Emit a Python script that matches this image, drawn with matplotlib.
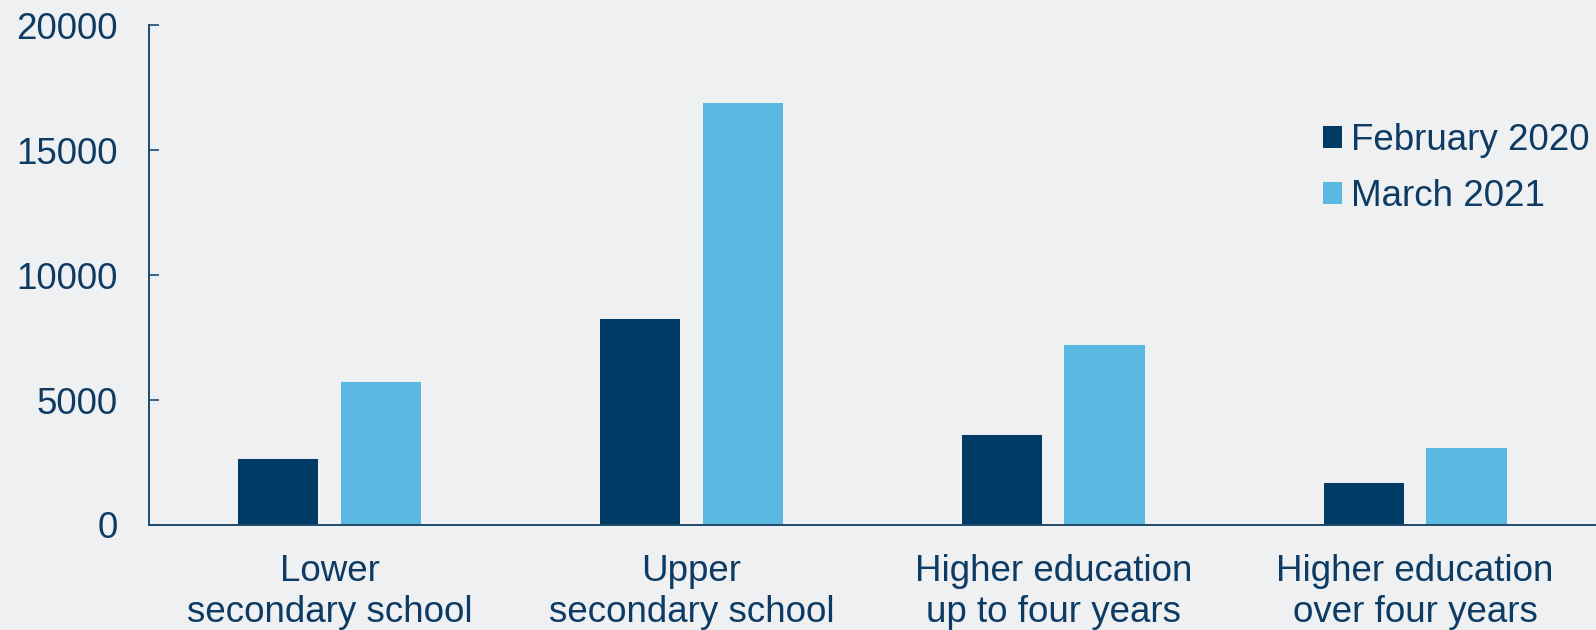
import matplotlib.pyplot as plt
import numpy as np

plt.rcParams['font.family'] = ['Liberation Sans', 'DejaVu Sans']

# Data
categories = ["Lower\nsecondary school", "Upper\nsecondary school",
              "Higher education\nup to four years", "Higher education\nover four years"]
series_names = ["February 2020", "March 2021"]
feb_2020 = [2640, 8230, 3620, 1700]
mar_2021 = [5730, 16900, 7190, 3100]
y_ticks = [0, 5000, 10000, 15000, 20000]

BG = "#eff0f2"
DARK = "#003b66"
LIGHT = "#5ab8e1"
TEXT = "#0d3b63"
AXIS = "#1f4b6d"

fig = plt.figure(figsize=(15.96, 6.3), dpi=100, facecolor=BG)
ax = fig.add_axes([148.6 / 1596, 105 / 630, 1 - 148.6 / 1596, 0.9597 - 105 / 630])
ax.set_facecolor(BG)

x = np.arange(len(categories))
w = 0.222
off = 0.142
b1 = ax.bar(x - off, feb_2020, w, color=DARK, label=series_names[0])
b2 = ax.bar(x + off, mar_2021, w, color=LIGHT, label=series_names[1])

ax.set_xlim(-0.5, len(categories) - 0.5)
ax.set_ylim(0, 20000)
ax.set_yticks(y_ticks)
ax.set_yticklabels([str(t) for t in y_ticks])
ax.set_xticks(x)
ax.set_xticklabels(categories, linespacing=1.22)

for s in ["top", "right"]:
    ax.spines[s].set_visible(False)
for s in ["left", "bottom"]:
    ax.spines[s].set_color(AXIS)
    ax.spines[s].set_linewidth(1.4)

ax.tick_params(axis="y", direction="in", length=7.5, width=1.2, color=AXIS,
               labelsize=26.5, labelcolor=TEXT, pad=22)
ax.tick_params(axis="x", length=0, labelsize=26.5, labelcolor=TEXT, pad=21)

leg = ax.legend(handles=[b1, b2], loc="upper left",
                bbox_to_anchor=(1323 / 1596, 1 - 123 / 630),
                bbox_transform=fig.transFigure,
                frameon=False, fontsize=26.5, borderpad=0, borderaxespad=0,
                handlelength=0.52, handleheight=0.52, handletextpad=0.25,
                labelspacing=0.57)
for t in leg.get_texts():
    t.set_color(TEXT)

fig.savefig("out.png", dpi=100, facecolor=BG)
